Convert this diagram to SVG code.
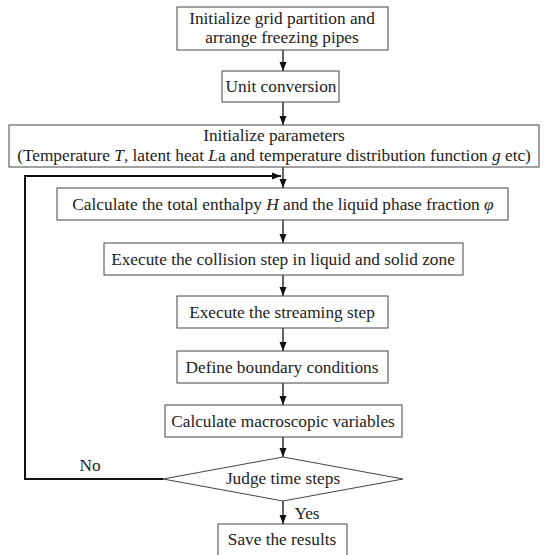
<svg xmlns="http://www.w3.org/2000/svg" width="548" height="555" viewBox="0 0 548 555">
<style>
.box{fill:#fff;stroke:#444;stroke-width:1}
.t{font-family:"Liberation Serif","DejaVu Serif",serif;font-size:17.3px;fill:#222;text-anchor:middle}
.c{fill:none;stroke:#111;stroke-width:1.3}
.loop{fill:none;stroke:#111;stroke-width:2}
</style>
<defs>
<marker id="ah" markerWidth="10" markerHeight="10" refX="9" refY="5" orient="auto" markerUnits="userSpaceOnUse">
<path d="M0,1.5 L9,5 L0,8.5 Z" fill="#111"/>
</marker>
</defs>
<rect width="548" height="555" fill="#fff"/>
<g id="connectors">
<line class="c" x1="283" y1="50" x2="283" y2="71" marker-end="url(#ah)"/>
<line class="c" x1="283" y1="102" x2="283" y2="125" marker-end="url(#ah)"/>
<line class="c" x1="283" y1="167" x2="283" y2="188" marker-end="url(#ah)"/>
<line class="c" x1="283" y1="220" x2="283" y2="243" marker-end="url(#ah)"/>
<line class="c" x1="283" y1="275" x2="283" y2="296" marker-end="url(#ah)"/>
<line class="c" x1="283" y1="328" x2="283" y2="351" marker-end="url(#ah)"/>
<line class="c" x1="283" y1="383" x2="283" y2="405" marker-end="url(#ah)"/>
<line class="c" x1="283" y1="437" x2="283" y2="457" marker-end="url(#ah)"/>
<line class="c" x1="283" y1="501" x2="283" y2="524" marker-end="url(#ah)"/>
<polyline class="loop" points="163,479 25,479 25,176 281,176" marker-end="url(#ah)"/>
<text class="t" x="90" y="471">No</text>
<text class="t" x="307" y="519">Yes</text>
</g>
<g id="n1">
<rect class="box" x="177" y="7" width="211" height="43"/>
<text class="t" x="282" y="24">Initialize grid partition and</text>
<text class="t" x="282" y="43">arrange freezing pipes</text>
</g>
<g id="n2">
<rect class="box" x="222" y="71" width="117" height="31"/>
<text class="t" x="281" y="92">Unit conversion</text>
</g>
<g id="n3">
<rect class="box" x="9" y="125" width="530" height="42"/>
<text class="t" x="274" y="141">Initialize parameters</text>
<text class="t" x="274" y="161">(Temperature <tspan font-style="italic">T</tspan>, latent heat <tspan font-style="italic">L</tspan>a and temperature distribution function <tspan font-style="italic">g</tspan> etc)</text>
</g>
<g id="n4">
<rect class="box" x="57" y="188" width="451" height="32"/>
<text class="t" x="283" y="209.5">Calculate the total enthalpy <tspan font-style="italic">H</tspan> and the liquid phase fraction <tspan font-style="italic">φ</tspan></text>
</g>
<g id="n5">
<rect class="box" x="104" y="243" width="359" height="32"/>
<text class="t" x="283" y="264.5">Execute the collision step in liquid and solid zone</text>
</g>
<g id="n6">
<rect class="box" x="177" y="296" width="211" height="32"/>
<text class="t" x="282" y="317.5">Execute the streaming step</text>
</g>
<g id="n7">
<rect class="box" x="177" y="351" width="211" height="32"/>
<text class="t" x="282" y="372.5">Define boundary conditions</text>
</g>
<g id="n8">
<rect class="box" x="165" y="405" width="237" height="32"/>
<text class="t" x="283" y="426.5">Calculate macroscopic variables</text>
</g>
<g id="n9">
<polygon class="box" points="163,479 283,457 403,479 283,501" stroke="#111" stroke-width="1.3"/>
<text class="t" x="283" y="484">Judge time steps</text>
</g>
<g id="n10">
<rect class="box" x="218" y="524" width="129" height="36"/>
<text class="t" x="282" y="545">Save the results</text>
</g>
</svg>
